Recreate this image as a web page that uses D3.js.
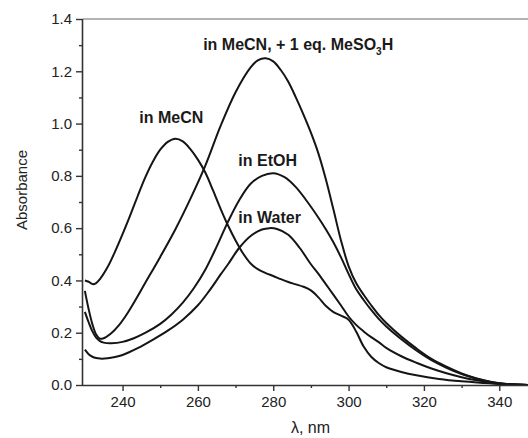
<!DOCTYPE html>
<html>
<head>
<meta charset="utf-8">
<script src="https://cdn.jsdelivr.net/npm/d3@7/dist/d3.min.js"></script>
<style>
  html, body { margin: 0; padding: 0; background: #fff; }
  svg { display: block; font-family: "Liberation Sans", Arial, sans-serif; }
</style>
</head>
<body>
<svg id="chart" width="528" height="438"></svg>
<script>
// UV-Vis absorption spectra (wavelength in nm, absorbance)
const wlMeCN = [230, 231, 232, 233, 234, 236, 238, 240, 242, 244, 246, 248, 250, 252, 254, 256, 258, 260, 262, 264, 266, 268, 270, 272, 274, 276, 278, 280, 282, 284, 286, 288, 290, 292, 294, 296, 298, 300, 302, 304, 306, 308, 310, 314, 318, 324, 330, 336, 342, 348];
const absMeCN = [0.40, 0.395, 0.386, 0.39, 0.405, 0.45, 0.51, 0.577, 0.648, 0.722, 0.793, 0.853, 0.9, 0.93, 0.942, 0.932, 0.902, 0.862, 0.812, 0.745, 0.675, 0.61, 0.553, 0.503, 0.465, 0.442, 0.428, 0.417, 0.405, 0.394, 0.385, 0.376, 0.362, 0.335, 0.302, 0.279, 0.265, 0.25, 0.205, 0.147, 0.108, 0.084, 0.068, 0.05, 0.037, 0.023, 0.014, 0.008, 0.003, 0.0];

const wlAcid = [230, 231, 232, 233, 234, 235, 237, 239, 241, 243, 246, 250, 254, 258, 262, 266, 270, 274, 276, 278, 280, 282, 284, 286, 288, 290, 292, 294, 296, 298, 300, 302, 304, 306, 308, 310, 314, 318, 322, 326, 330, 334, 338, 342, 348];
const absAcid = [0.36, 0.29, 0.232, 0.193, 0.177, 0.179, 0.198, 0.228, 0.268, 0.315, 0.39, 0.49, 0.595, 0.712, 0.84, 0.99, 1.12, 1.215, 1.243, 1.25, 1.238, 1.205, 1.16, 1.10, 1.035, 0.965, 0.885, 0.785, 0.67, 0.552, 0.455, 0.39, 0.345, 0.305, 0.268, 0.237, 0.185, 0.14, 0.10, 0.07, 0.044, 0.025, 0.012, 0.004, 0.0];

const wlEtOH = [230, 231, 232, 233, 234, 235, 237, 240, 243, 246, 250, 253, 256, 259, 262, 265, 268, 271, 274, 277, 280, 283, 286, 289, 292, 294, 296, 298, 300, 302, 304, 306, 308, 310, 314, 318, 322, 326, 330, 334, 338, 342, 348];
const absEtOH = [0.28, 0.24, 0.205, 0.181, 0.168, 0.162, 0.16, 0.165, 0.179, 0.199, 0.234, 0.27, 0.315, 0.372, 0.442, 0.53, 0.625, 0.708, 0.77, 0.80, 0.81, 0.795, 0.757, 0.702, 0.64, 0.595, 0.545, 0.488, 0.425, 0.367, 0.325, 0.287, 0.253, 0.224, 0.175, 0.132, 0.095, 0.066, 0.042, 0.024, 0.011, 0.004, 0.0];

const wlWater = [230, 231, 232, 233, 234, 236, 238, 240, 244, 248, 252, 256, 260, 263, 266, 268, 271, 274, 277, 279, 281, 284, 287, 290, 292, 294, 296, 298, 300, 302, 304, 306, 308, 310, 314, 318, 322, 326, 330, 334, 338, 342, 348];
const absWater = [0.135, 0.118, 0.108, 0.103, 0.101, 0.102, 0.107, 0.115, 0.141, 0.173, 0.208, 0.25, 0.305, 0.36, 0.422, 0.462, 0.525, 0.57, 0.595, 0.60, 0.597, 0.575, 0.525, 0.462, 0.425, 0.385, 0.345, 0.304, 0.262, 0.23, 0.205, 0.183, 0.164, 0.142, 0.11, 0.085, 0.063, 0.045, 0.03, 0.018, 0.009, 0.003, 0.0];

const xMajorTicks = [240, 260, 280, 300, 320, 340];
const xMinorTicks = [250, 270, 290, 310, 330];
const yMajorTicks = [0.0, 0.2, 0.4, 0.6, 0.8, 1.0, 1.2, 1.4];
const yMinorTicks = [0.1, 0.3, 0.5, 0.7, 0.9, 1.1, 1.3];

const series = [
  { name: "in MeCN", wl: wlMeCN, abs: absMeCN },
  { name: "in MeCN, + 1 eq. MeSO3H", wl: wlAcid, abs: absAcid },
  { name: "in EtOH", wl: wlEtOH, abs: absEtOH },
  { name: "in Water", wl: wlWater, abs: absWater }
];

// Curve labels, anchored in data coordinates (nm, absorbance)
const labels = [
  { parts: [["in MeCN, + 1 eq. MeSO", false], ["3", true], ["H", false]], wl: 261.4, a: 1.2815 },
  { parts: [["in MeCN", false]], wl: 244.45, a: 1.003 },
  { parts: [["in EtOH", false]], wl: 270.74, a: 0.838 },
  { parts: [["in Water", false]], wl: 270.74, a: 0.621 }
];

const svg = d3.select("#chart");
const plotLeft = 83, plotRight = 529.4, plotTop = 19, plotBottom = 385;

const x = d3.scaleLinear().domain([229.5, 348]).range([plotLeft, plotRight]);
const y = d3.scaleLinear().domain([0, 1.4]).range([plotBottom, plotTop]);

const axisColor = "#333";
const labelFont = "Liberation Sans, Arial, sans-serif";

// frame line along the top
svg.append("line")
  .attr("x1", plotLeft).attr("x2", 528).attr("y1", plotTop).attr("y2", plotTop)
  .attr("stroke", "#6a6a6a").attr("stroke-width", 1.2);

// curves
svg.append("clipPath").attr("id", "plotclip")
  .append("rect").attr("x", plotLeft).attr("y", plotTop - 5)
  .attr("width", 528 - plotLeft).attr("height", plotBottom - plotTop + 5);

const line = d3.line()
  .x(d => x(d[0]))
  .y(d => y(d[1]))
  .curve(d3.curveCatmullRom.alpha(0.5));

svg.append("g").attr("clip-path", "url(#plotclip)")
  .selectAll("path")
  .data(series)
  .join("path")
  .attr("d", s => line(s.wl.map((w, i) => [w, s.abs[i]])))
  .attr("fill", "none")
  .attr("stroke", "#151515")
  .attr("stroke-width", 2)
  .attr("stroke-linejoin", "round");

// x axis
const xAxis = d3.axisBottom(x).tickValues(xMajorTicks).tickSize(6).tickPadding(5).tickFormat(d3.format("d"));
const gx = svg.append("g").attr("transform", `translate(0,${plotBottom})`).call(xAxis);
gx.select(".domain").attr("d", `M${plotLeft},0.5H528`).attr("stroke", axisColor).attr("stroke-width", 1.6);
gx.selectAll(".tick line").attr("stroke", axisColor).attr("stroke-width", 1.4);
gx.selectAll(".tick text").attr("font-size", 15).attr("fill", "#222").attr("font-family", labelFont);
svg.append("g").attr("transform", `translate(0,${plotBottom})`)
  .call(d3.axisBottom(x).tickValues(xMinorTicks).tickSize(3).tickFormat(""))
  .call(g => g.select(".domain").remove())
  .call(g => g.selectAll(".tick line").attr("stroke", axisColor).attr("stroke-width", 1.4));

// y axis
const yAxis = d3.axisLeft(y).tickValues(yMajorTicks).tickSize(7).tickPadding(4).tickFormat(d3.format(".1f"));
const gy = svg.append("g").attr("transform", `translate(${plotLeft},0)`).call(yAxis);
gy.select(".domain").attr("d", `M-0.5,${plotTop}V${plotBottom + 1}`).attr("stroke", axisColor).attr("stroke-width", 1.6);
gy.selectAll(".tick line").attr("stroke", axisColor).attr("stroke-width", 1.4);
gy.selectAll(".tick text").attr("font-size", 15).attr("fill", "#222").attr("font-family", labelFont);
svg.append("g").attr("transform", `translate(${plotLeft},0)`)
  .call(d3.axisLeft(y).tickValues(yMinorTicks).tickSize(4).tickFormat(""))
  .call(g => g.select(".domain").remove())
  .call(g => g.selectAll(".tick line").attr("stroke", axisColor).attr("stroke-width", 1.4));

// axis titles
svg.append("text")
  .attr("x", 310.5).attr("y", 433)
  .attr("text-anchor", "middle")
  .attr("font-size", 16).attr("fill", "#222")
  .text("λ, nm");

svg.append("text")
  .attr("transform", "translate(27,190) rotate(-90)")
  .attr("text-anchor", "middle")
  .attr("font-size", 15).attr("fill", "#222")
  .text("Absorbance");

// curve labels
labels.forEach(lb => {
  const t = svg.append("text")
    .attr("x", x(lb.wl)).attr("y", y(lb.a))
    .attr("font-size", 16).attr("font-weight", "bold").attr("fill", "#1a1a1a");
  lb.parts.forEach(([str, sub], i) => {
    const ts = t.append("tspan").text(str);
    if (sub) ts.attr("font-size", 10).attr("dy", 5);
    else if (i > 0) ts.attr("dy", -5);
  });
});
</script>
</body>
</html>
